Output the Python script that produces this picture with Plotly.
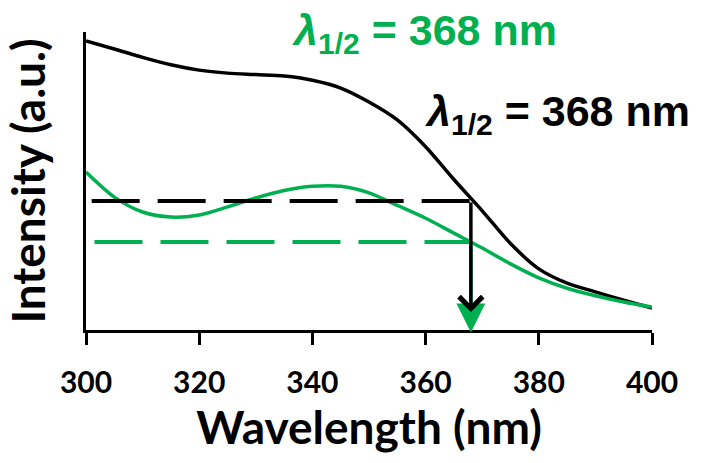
import plotly.graph_objects as go

# ---- data ----
wavelength = [300, 305, 310, 315, 320, 325, 330, 335, 340, 345, 350,
              355, 360, 365, 370, 375, 380, 385, 390, 395, 400]
black_intensity = [0.970, 0.943, 0.915, 0.890, 0.872, 0.862, 0.857, 0.852, 0.838, 0.812, 0.765,
                   0.705, 0.615, 0.505, 0.400, 0.290, 0.205, 0.157, 0.128, 0.100, 0.074]
green_intensity = [0.530, 0.446, 0.396, 0.379, 0.386, 0.413, 0.443, 0.468, 0.482, 0.482, 0.460,
                   0.418, 0.375, 0.325, 0.275, 0.222, 0.175, 0.140, 0.115, 0.094, 0.077]
half_black = 0.433
half_green = 0.295
lambda_half_black = 368
lambda_half_green = 368
x_ticks = [300, 320, 340, 360, 380, 400]

BLACK = "#000000"
GREEN = "#00b050"

fig = go.Figure()

fig.add_trace(go.Scatter(x=wavelength, y=black_intensity, mode="lines",
                         line=dict(color=BLACK, width=3.5, shape="spline", smoothing=0.8),
                         showlegend=False))
fig.add_trace(go.Scatter(x=wavelength, y=green_intensity, mode="lines",
                         line=dict(color=GREEN, width=3.5, shape="spline", smoothing=0.8),
                         showlegend=False))

# half-maximum dashed levels
fig.add_trace(go.Scatter(x=[301, lambda_half_black], y=[half_black, half_black], mode="lines",
                         line=dict(color=BLACK, width=4, dash="48px,18px"), showlegend=False))
fig.add_trace(go.Scatter(x=[301.5, lambda_half_green], y=[half_green, half_green], mode="lines",
                         line=dict(color=GREEN, width=4, dash="48px,18px"), showlegend=False))

# arrows down to the axis (green first, black on top)
fig.add_annotation(x=lambda_half_green, y=-0.008, ax=lambda_half_green, ay=0.285,
                   xref="x", yref="y", axref="x", ayref="y", text="", showarrow=True,
                   arrowhead=2, arrowwidth=3.5, arrowsize=1.65, arrowcolor=GREEN)
fig.add_annotation(x=lambda_half_black, y=0.06, ax=lambda_half_black, ay=half_black,
                   xref="x", yref="y", axref="x", ayref="y", text="", showarrow=True,
                   arrowhead=4, arrowwidth=3.5, arrowsize=1.3, arrowcolor=BLACK)

# labels
fig.add_annotation(x=336.0, y=0.997, xref="x", yref="y", xanchor="left", yanchor="middle",
                   text=f"<b><i>λ</i><sub>1/2</sub> = {lambda_half_green} nm</b>", showarrow=False,
                   font=dict(family="Liberation Sans, Arial", size=43, color=GREEN))
fig.add_annotation(x=359.5, y=0.725, xref="x", yref="y", xanchor="left", yanchor="middle",
                   text=f"<b><i>λ</i><sub>1/2</sub> = {lambda_half_black} nm</b>", showarrow=False,
                   font=dict(family="Liberation Sans, Arial", size=43, color=BLACK))

fig.update_layout(
    width=714, height=463,
    margin=dict(l=86, r=62, t=32, b=133),
    plot_bgcolor="white", paper_bgcolor="white",
    font=dict(family="Lato, Open Sans, sans-serif", color=BLACK),
    xaxis=dict(range=[300, 400], tickvals=x_ticks, ticks="outside", ticklen=12, tickwidth=2.5,
               tickcolor=BLACK, showline=True, linecolor=BLACK, linewidth=2.5, showgrid=False,
               zeroline=False, tickfont=dict(size=30, weight="bold"), ticklabelstandoff=12,
               title=dict(text="<b>Wavelength (nm)</b>", font=dict(size=46), standoff=8),
               automargin=False),
    yaxis=dict(range=[0, 1], showline=True, linecolor=BLACK, linewidth=2.5, showgrid=False,
               zeroline=False, showticklabels=False, ticks="",
               title=dict(text="<b>Intensity (a.u.)</b>", font=dict(size=46), standoff=50),
               automargin=False),
)

fig.write_html("out.html", config={"displayModeBar": False},
               post_script="document.body.style.margin='0';")
